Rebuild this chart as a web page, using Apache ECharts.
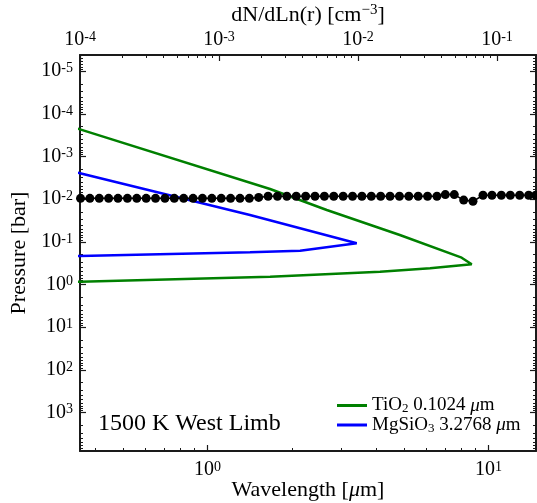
<!DOCTYPE html>
<html>
<head>
<meta charset="utf-8">
<script src="https://cdn.jsdelivr.net/npm/echarts@6/dist/echarts.min.js"></script>
<style>html,body{margin:0;padding:0;background:#fff}#c{width:537px;height:503px}</style>
</head>
<body>
<div id="c"></div>
<script>
// ---- data ----
const wavelength = [0.3532, 0.3814, 0.4118, 0.4447, 0.4802, 0.5187, 0.5601, 0.6048, 0.6531, 0.7054,
  0.7616, 0.8226, 0.8884, 0.9594, 1.036, 1.119, 1.208, 1.305, 1.409, 1.521,
  1.643, 1.774, 1.916, 2.069, 2.235, 2.413, 2.606, 2.814, 3.039, 3.282,
  3.544, 3.827, 4.133, 4.463, 4.820, 5.205, 5.621, 6.069, 6.555, 7.020,
  7.555, 8.160, 8.806, 9.560, 10.29, 11.11, 11.96, 12.91, 13.90, 14.73];
const spectrumLevel = [9.55e-3, 9.55e-3, 9.55e-3, 9.55e-3, 9.55e-3, 9.55e-3, 9.55e-3, 9.55e-3, 9.55e-3, 9.55e-3,
  9.55e-3, 9.55e-3, 9.55e-3, 9.55e-3, 9.55e-3, 9.55e-3, 9.55e-3, 9.55e-3, 9.55e-3, 9.1e-3,
  8.55e-3, 8.55e-3, 8.55e-3, 8.55e-3, 8.55e-3, 8.55e-3, 8.55e-3, 8.55e-3, 8.55e-3, 8.55e-3,
  8.55e-3, 8.55e-3, 8.55e-3, 8.55e-3, 8.55e-3, 8.55e-3, 8.55e-3, 8.55e-3, 8.55e-3, 7.8e-3,
  7.8e-3, 1.05e-2, 1.12e-2, 8.1e-3, 8.1e-3, 8.1e-3, 8.1e-3, 8.1e-3, 8.1e-3, 8.1e-3];

const tio2Density  = [3e-5, 1.0e-4, 2.33e-3, 5.96e-3, 2.00e-2, 5.57e-2, 6.58e-2, 3.30e-2, 1.44e-2, 2.33e-3, 1.0e-4, 3e-5];
const tio2Pressure = [6.9e-5, 2.31e-4, 5.78e-3, 1.79e-2, 6.92e-2, 0.235, 0.336, 0.417, 0.501, 0.656, 0.860, 0.953];

const mgsio3Density  = [3e-5, 1.0e-4, 1.67e-3, 9.79e-3, 3.83e-3, 1.67e-3, 1.0e-4, 3e-5];
const mgsio3Pressure = [9.5e-4, 2.48e-3, 2.35e-2, 0.108, 0.161, 0.176, 0.215, 0.234];

const wavelengthTicks = [1, 10];
const densityTicks = [1e-4, 1e-3, 1e-2, 1e-1];
const pressureTicks = [1e-5, 1e-4, 1e-3, 1e-2, 1e-1, 1, 10, 100, 1000];
const seriesNames = ['TiO2 0.1024 μm', 'MgSiO3 3.2768 μm'];
const annotation = '1500 K West Limb';

// ---- layout / style ----
const FONT = 'Liberation Serif';
const INK = '#1a1a1a';
const WL_MIN = 0.3517, WL_MAX = 14.76;
const N_MIN = 9.99e-5, N_MAX = 0.1909;
const P_MIN = 4.18e-6, P_MAX = 7.98e3;

function minorTicks(lo, hi, e0, e1) {
  const out = [];
  for (let e = e0; e <= e1; e++) {
    for (let k = 2; k <= 9; k++) {
      const v = k * Math.pow(10, e);
      if (v > lo && v < hi) out.push(v);
    }
  }
  return out;
}

const labelRich = {
  b: {fontFamily: FONT, fontSize: 20, lineHeight: 20, color: '#000'},
  e: {fontFamily: FONT, fontSize: 14, lineHeight: 13, verticalAlign: 'top', color: '#000'}
};
function powLabel(v) {
  const e = Math.round(Math.log10(v));
  return '{b|10}{e|' + (e < 0 ? '-' + (-e) : e) + '}';
}
const nameRich = {
  b: {fontFamily: FONT, fontSize: 22, lineHeight: 24, color: '#000'},
  i: {fontFamily: FONT, fontSize: 22, lineHeight: 24, fontStyle: 'italic', color: '#000'},
  e: {fontFamily: FONT, fontSize: 15, lineHeight: 12, verticalAlign: 'top', color: '#000'}
};

function majorAxis(o) {
  return Object.assign({
    type: 'log', logBase: 10, gridIndex: 0,
    axisLine: {show: true, onZero: false, lineStyle: {color: INK, width: 2}},
    axisTick: {show: true, inside: true, length: 6, customValues: o.ticks, lineStyle: {color: INK, width: 1.2}},
    axisLabel: {show: o.labels !== false, customValues: o.ticks, formatter: powLabel, rich: labelRich, margin: o.margin || 7},
    splitLine: {show: false},
    minorTick: {show: false},
    nameMoveOverlap: false
  }, o.extra);
}
function minorAxis(o) {
  return Object.assign({
    type: 'log', logBase: 10, gridIndex: 0,
    axisLine: {show: false, onZero: false},
    axisTick: {show: true, inside: true, length: 3, customValues: o.ticks, lineStyle: {color: INK, width: 1}},
    axisLabel: {show: false},
    splitLine: {show: false}
  }, o.extra);
}

const wlMinor = minorTicks(WL_MIN, WL_MAX, -1, 1);
const nMinor = minorTicks(N_MIN, N_MAX, -4, -1);
const pMinor = minorTicks(P_MIN, P_MAX, -6, 3);

const chart = echarts.init(document.getElementById('c'), null, {renderer: 'canvas'});
chart.setOption({
  animation: false,
  backgroundColor: '#fff',
  grid: {left: 80, right: 1, top: 55, bottom: 52, containLabel: false, outerBoundsMode: 'none'},
  title: {
    text: annotation, left: 98, top: 412, padding: 0,
    textStyle: {fontFamily: FONT, fontSize: 24, fontWeight: 'normal', color: '#000'}
  },
  legend: {
    data: seriesNames.map(n => ({name: n, icon: 'rect'})),
    orient: 'vertical', left: 337, top: 396, padding: 0,
    itemWidth: 30, itemHeight: 3, itemGap: 0, selectedMode: false,
    formatter: function (name) {
      if (name === seriesNames[0]) return '{a|TiO}{s|2}{a| 0.1024 }{i|μ}{a|m}';
      return '{a|MgSiO}{s|3}{a| 3.2768 }{i|μ}{a|m}';
    },
    textStyle: {
      fontFamily: FONT, fontSize: 19, color: '#000',
      rich: {
        a: {fontFamily: FONT, fontSize: 19, lineHeight: 20, color: '#000'},
        i: {fontFamily: FONT, fontSize: 19, lineHeight: 20, fontStyle: 'italic', color: '#000'},
        s: {fontFamily: FONT, fontSize: 13, lineHeight: 10, verticalAlign: 'bottom', color: '#000'}
      }
    }
  },
  xAxis: [
    majorAxis({ticks: wavelengthTicks, margin: 9, extra: {
      position: 'bottom', min: WL_MIN, max: WL_MAX,
      name: '{b|Wavelength [}{i|μ}{b|m]}', nameLocation: 'middle', nameGap: 27,
      nameTextStyle: {rich: nameRich}
    }}),
    majorAxis({ticks: densityTicks, margin: 5, extra: {
      position: 'top', min: N_MIN, max: N_MAX,
      name: '{b|dN/dLn(r) [cm}{e|−3}{b|]}', nameLocation: 'middle', nameGap: 28,
      nameTextStyle: {rich: nameRich}
    }}),
    minorAxis({ticks: wlMinor, extra: {position: 'bottom', min: WL_MIN, max: WL_MAX}}),
    minorAxis({ticks: nMinor, extra: {position: 'top', min: N_MIN, max: N_MAX}})
  ],
  yAxis: [
    majorAxis({ticks: pressureTicks, margin: 7, extra: {
      position: 'left', inverse: true, min: P_MIN, max: P_MAX,
      name: 'Pressure [bar]', nameLocation: 'middle', nameGap: 50,
      nameTextStyle: {fontFamily: FONT, fontSize: 22, color: '#000'}
    }}),
    minorAxis({ticks: pMinor, extra: {position: 'left', inverse: true, min: P_MIN, max: P_MAX}}),
    majorAxis({ticks: pressureTicks, labels: false, extra: {position: 'right', inverse: true, min: P_MIN, max: P_MAX}}),
    minorAxis({ticks: pMinor, extra: {position: 'right', inverse: true, min: P_MIN, max: P_MAX}})
  ],
  series: [
    {
      name: seriesNames[0], type: 'line', xAxisIndex: 1, yAxisIndex: 0,
      data: tio2Density.map((n, i) => [n, tio2Pressure[i]]),
      symbol: 'none', clip: true,
      lineStyle: {color: '#008000', width: 2.5}, itemStyle: {color: '#008000'}
    },
    {
      name: seriesNames[1], type: 'line', xAxisIndex: 1, yAxisIndex: 0,
      data: mgsio3Density.map((n, i) => [n, mgsio3Pressure[i]]),
      symbol: 'none', clip: true,
      lineStyle: {color: '#0000ff', width: 2.5}, itemStyle: {color: '#0000ff'}
    },
    {
      name: 'spectrum', type: 'line', xAxisIndex: 0, yAxisIndex: 0,
      data: wavelength.map((w, i) => [w, spectrumLevel[i]]),
      symbol: 'circle', symbolSize: 9, showAllSymbol: true, clip: true,
      lineStyle: {color: '#000', width: 1.5}, itemStyle: {color: '#000'}
    }
  ]
});
</script>
</body>
</html>
